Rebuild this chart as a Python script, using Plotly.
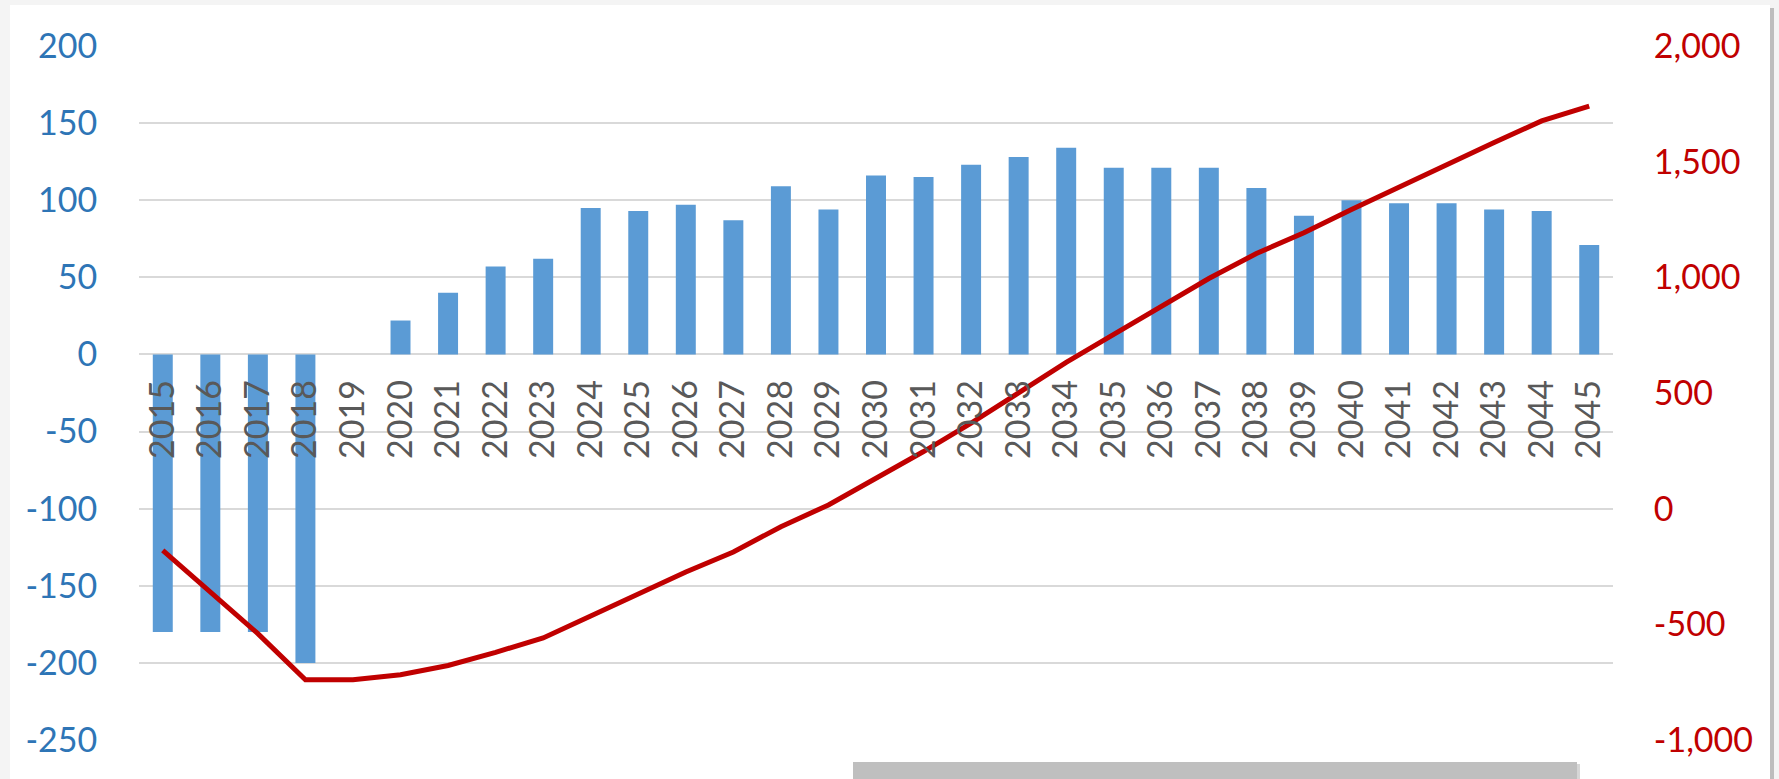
import plotly.graph_objects as go

# ---- data ----
years = [str(y) for y in range(2015, 2046)]
annual_values = [-180, -180, -180, -200, 0, 22, 40, 57, 62, 95, 93, 97, 87, 109, 94,
                 116, 115, 123, 128, 134, 121, 121, 121, 108, 90, 100, 98, 98, 94, 93, 71]
cumulative_values = [-180, -360, -540, -740, -740, -718, -678, -621, -559, -464, -371,
                     -274, -187, -78, 16, 132, 247, 370, 498, 632, 753, 874, 995, 1103,
                     1193, 1293, 1391, 1489, 1583, 1676, 1740]
left_ticks = [-250, -200, -150, -100, -50, 0, 50, 100, 150, 200]
left_labels = ["-250", "-200", "-150", "-100", "-50", "0", "50", "100", "150", "200"]
right_ticks = [-1000, -500, 0, 500, 1000, 1500, 2000]
right_labels = ["-1,000", "-500", "0", "500", "1,000", "1,500", "2,000"]

FONT = "Lato"
W, H = 1779, 779
ML, MR, MT, MB = 139, 166, 46, 39
pw, ph = W - ML - MR, H - MT - MB

def px_x(x):
    return (x - ML) / pw

def px_y(y):
    return (H - MB - y) / ph

fig = go.Figure()
fig.add_trace(go.Bar(
    x=years, y=annual_values, marker=dict(color="#5B9BD5", line=dict(width=0)),
    yaxis="y", showlegend=False, hoverinfo="x+y"))
fig.add_trace(go.Scatter(
    x=years, y=cumulative_values, mode="lines",
    line=dict(color="#C00000", width=5), yaxis="y2", showlegend=False))

left_min, left_max = left_ticks[0], left_ticks[-1]
zero_pos = (0 - left_min) / (left_max - left_min)

shapes = [
    # white chart panel on light grey page
    dict(type="rect", xref="paper", yref="paper", x0=px_x(10), x1=px_x(1770),
         y0=px_y(H + 5), y1=px_y(5), fillcolor="white", line=dict(width=0), layer="below"),
    # right shadow edge
    dict(type="rect", xref="paper", yref="paper", x0=px_x(1770), x1=px_x(1774),
         y0=px_y(H + 5), y1=px_y(8), fillcolor="#BDBDBD", line=dict(width=0), layer="below"),
    # grey bar at bottom
    dict(type="rect", xref="paper", yref="paper", x0=px_x(853), x1=px_x(1577),
         y0=px_y(H + 5), y1=px_y(762), fillcolor="#BFBFBF", line=dict(width=0), layer="above"),
    dict(type="rect", xref="paper", yref="paper", x0=px_x(1577), x1=px_x(1580),
         y0=px_y(H + 5), y1=px_y(764), fillcolor="#D6D6D6", line=dict(width=0), layer="above"),
]

fig.update_layout(
    template="none",
    width=W, height=H,
    margin=dict(l=ML, r=MR, t=MT, b=MB, pad=0),
    paper_bgcolor="#F4F4F4",
    plot_bgcolor="rgba(0,0,0,0)",
    bargap=0.58,
    shapes=shapes,
    showlegend=False,
    font=dict(family=FONT),
    xaxis=dict(
        type="category", categoryorder="array", categoryarray=years,
        anchor="free", position=zero_pos, automargin=False,
        tickangle=-90, tickfont=dict(family=FONT, size=34, color="#595959"),
        ticks="outside", ticklen=11, tickcolor="rgba(0,0,0,0)",
        showgrid=False, showline=False, zeroline=False,
    ),
    yaxis=dict(
        range=[left_min, left_max], tickvals=left_ticks, ticktext=left_labels,
        tickfont=dict(family=FONT, size=34, color="#2E75B6"),
        ticks="outside", ticklen=34, tickcolor="rgba(0,0,0,0)",
        showgrid=True, gridcolor="#D9D9D9", gridwidth=1.5,
        zeroline=False, showline=False, automargin=False,
    ),
    yaxis2=dict(
        range=[right_ticks[0], right_ticks[-1]], tickvals=right_ticks, ticktext=right_labels,
        overlaying="y", side="right",
        tickfont=dict(family=FONT, size=34, color="#C00000"),
        ticks="outside", ticklen=33, tickcolor="rgba(0,0,0,0)",
        showgrid=False, zeroline=False, showline=False, automargin=False,
    ),
)

fig.write_html("out.html", config={"displayModeBar": False},
               post_script="document.body.style.margin='0';document.body.style.overflow='hidden';")
